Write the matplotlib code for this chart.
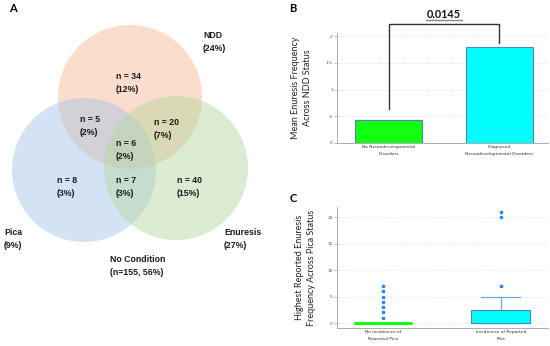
import matplotlib
matplotlib.use("Agg")
import matplotlib.pyplot as plt
from matplotlib.patches import Circle
import numpy as np

# ---------------- data ----------------
venn_sets = ["NDD", "Pica", "Enuresis"]
venn_set_labels = ["NDD\n(24%)", "Pica\n(9%)", "Enuresis\n(27%)"]
venn_region_n = [34, 5, 20, 6, 8, 7, 40]
venn_region_pct = [12, 2, 7, 2, 3, 3, 15]
no_condition_n = 155
no_condition_pct = 56

b_categories = ["No Neurodevelopmental\nDisorders", "Diagnosed\nNeurodevelopmental Disorders"]
b_means = [0.43, 1.80]
b_pvalue = "0.0145"
b_yticks = [0, 0.5, 1, 1.5, 2]
b_yticklabels = ["0", ".5", "1", "1.5", "2"]

c_categories = ["No incidences of\nReported Pica", "Incidences of Reported\nPica"]
c_q1 = [0, 0]
c_med = [0, 0]
c_q3 = [0, 2.5]
c_whislo = [0, 0]
c_whishi = [0, 5]
c_fliers = [[1, 2, 3, 4, 5, 6, 7], [7, 20, 21]]
c_yticks = [0, 5, 10, 15, 20]

# ---------------- figure ----------------
W, H = 550, 346
fig = plt.figure(figsize=(W / 100, H / 100), dpi=100)

# ---------- Panel A : Venn ----------
axA = fig.add_axes([0, 0, 300 / W, 1])
axA.set_xlim(0, 300)
axA.set_ylim(H, 0)
axA.axis("off")

circ_style = [
    ((130, 97), "#f6b48e"),   # NDD
    ((84, 170), "#9fc3e7"),   # Pica
    ((176, 168), "#b3d69c"),  # Enuresis
]
for (cx, cy), col in circ_style:
    axA.add_patch(Circle((cx, cy), 72, facecolor=col, edgecolor="none", alpha=0.45))

vfont = dict(family="Liberation Sans", fontweight="bold", fontsize=6.3, color="#1a1a1a",
             linespacing=1.45)
region_pos = [(116, 83), (80, 126), (154, 129), (116, 150), (57, 187), (116, 187), (177, 187)]
for (x, y), n, p in zip(region_pos, venn_region_n, venn_region_pct):
    axA.text(x, y, f"n = {n}\n({p}%)", ha="left", va="center", **vfont)

set_pos = [(203, 42), (4, 239), (224, 239)]
for (x, y), lab in zip(set_pos, venn_set_labels):
    axA.text(x, y, lab, ha="left", va="center", **vfont)
axA.text(110, 266, f"No Condition\n(n={no_condition_n}, {no_condition_pct}%)",
         ha="left", va="center", **vfont)

fig.text(13 / W, 1 - 9 / H, "A", fontsize=8, fontweight="bold", family="Lato",
         ha="center", va="center")
fig.text(293 / W, 1 - 9 / H, "B", fontsize=8, fontweight="bold", family="Lato",
         ha="center", va="center")
fig.text(293 / W, 1 - 198 / H, "C", fontsize=8, fontweight="bold", family="Lato",
         ha="center", va="center")

spine_col = "#a0a0a0"
grid_col = "#d9d9d9"


def style_axis(ax):
    for s in ["top", "right"]:
        ax.spines[s].set_visible(False)
    for s in ["left", "bottom"]:
        ax.spines[s].set_color(spine_col)
        ax.spines[s].set_linewidth(0.6)
    ax.tick_params(axis="y", length=2, width=0.5, color=spine_col, labelsize=3.2,
                   labelcolor="#555555", pad=1)
    ax.tick_params(axis="x", length=0, labelsize=3.2, labelcolor="#333333", pad=1.5)
    ax.yaxis.grid(True, linestyle=(0, (1, 1.5)), color=grid_col, linewidth=0.6)
    ax.set_axisbelow(True)


# ---------- Panel B : bar chart ----------
axB = fig.add_axes([337 / W, 1 - 143 / H, 211 / W, 110 / H])
xb = np.arange(len(b_categories))
axB.bar(xb, b_means, width=0.6, color=["#11ff11", "#00ffff"], edgecolor="#4f81bd",
        linewidth=0.8, zorder=3)
axB.set_xlim(-0.466, 1.44)
axB.set_ylim(0, 2.06)
axB.set_yticks(b_yticks)
axB.set_yticklabels(b_yticklabels)
axB.set_xticks(xb)
axB.set_xticklabels(b_categories, linespacing=1.9)
style_axis(axB)
axB.set_ylabel("Mean Enuresis Frequency\nAcross NDD Status", family="Lato",
               fontsize=6.5, color="#222222", labelpad=10, linespacing=1.45)

# significance bracket
top = max(b_means) + 0.42
axB.plot([xb[0], xb[0], xb[1], xb[1]],
         [b_means[0] + 0.21, top, top, b_means[1] + 0.07],
         color="#333333", linewidth=1.0, clip_on=False, zorder=4)
axB.text((xb[0] + xb[1]) / 2, top + 0.19, b_pvalue, ha="center", va="center",
         family="Lato", fontweight="bold", fontsize=7.8, color="#111111",
         clip_on=False)
axB.plot([(xb[0] + xb[1]) / 2 - 0.16, (xb[0] + xb[1]) / 2 + 0.16],
         [top + 0.085, top + 0.085], color="#888888", linewidth=1.0, clip_on=False)

# ---------- Panel C : box plot ----------
axC = fig.add_axes([337 / W, 1 - 328 / H, 211 / W, 121 / H])
stats = []
for i in range(len(c_categories)):
    stats.append(dict(med=c_med[i], q1=c_q1[i], q3=c_q3[i], whislo=c_whislo[i],
                      whishi=c_whishi[i], fliers=c_fliers[i], label=c_categories[i]))
xc = np.arange(len(c_categories))
bp = axC.bxp(stats, positions=xc, widths=0.5, patch_artist=True, showfliers=True,
             capwidths=0.33,
             flierprops=dict(marker="s", markersize=1.6, markerfacecolor="#2f86f0",
                             markeredgecolor="#2f86f0"),
             medianprops=dict(color="#4f81bd", linewidth=0.8),
             boxprops=dict(linewidth=0.8))
box_face = ["#11ff11", "#00ffff"]
box_edge = ["#11ff11", "#4f81bd"]
for i, patch in enumerate(bp["boxes"]):
    patch.set_facecolor(box_face[i])
    patch.set_edgecolor(box_edge[i])
    patch.set_zorder(3)
for ln in bp["whiskers"] + bp["caps"]:
    ln.set_color("#6aa7e8")
    ln.set_linewidth(0.9)
bp["boxes"][0].set_linewidth(2.0)
bp["medians"][0].set_color("#11ff11")
bp["medians"][0].set_linewidth(2.0)
for k in (0, 1):
    bp["caps"][k].set_visible(False)
    bp["whiskers"][k].set_visible(False)
axC.set_xlim(-0.39, 1.40)
axC.set_ylim(-0.94, 21.9)
axC.set_yticks(c_yticks)
axC.set_xticks(xc)
axC.set_xticklabels(c_categories, linespacing=1.9)
style_axis(axC)
axC.set_ylabel("Highest Reported Enuresis\nFrequency Across Pica Status", family="Lato",
               fontsize=6.5, color="#222222", labelpad=8, linespacing=1.45)

fig.savefig("out.png", dpi=100)
